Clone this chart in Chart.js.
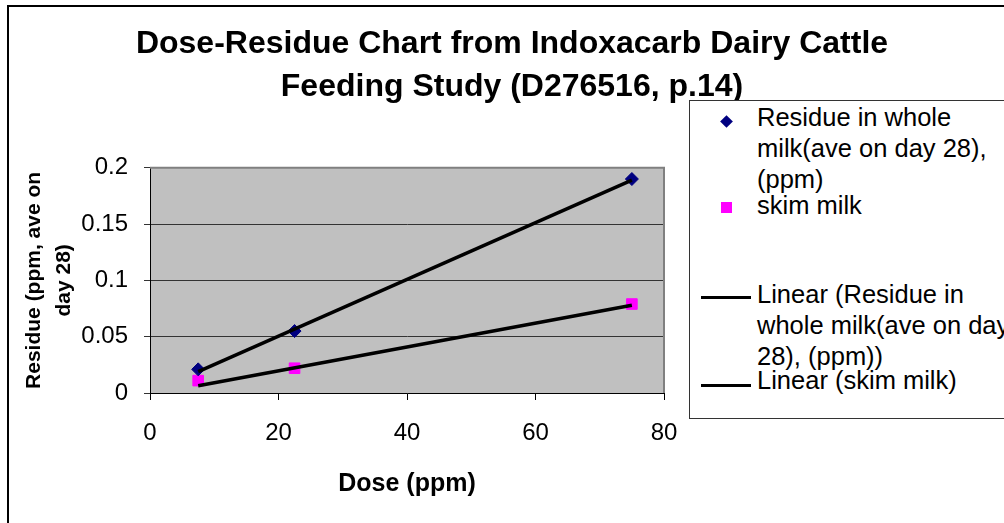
<!DOCTYPE html>
<html>
<head>
<meta charset="utf-8">
<script src="https://cdn.jsdelivr.net/npm/chart.js@4.4.1/dist/chart.umd.min.js"></script>
<style>
    html, body { margin: 0; padding: 0; background: #fff; overflow: hidden; }
    #wrap { position: relative; width: 1004px; height: 523px; overflow: hidden; }
    #frame {
        position: absolute; left: 7px; top: 5px; width: 1100px; height: 600px;
        border-left: 2px solid #000; border-top: 2px solid #000; pointer-events: none;
    }
    #legend {
        position: absolute; left: 689px; top: 100px; width: 360px; height: 317px;
        background: #fff; border: 1px solid #333;
        font-family: 'Liberation Sans', Arial, sans-serif; font-size: 25.5px; color: #000;
    }
    .lg-text { position: absolute; left: 67px; line-height: 31px; white-space: nowrap; }
    .lg-diamond { position: absolute; width: 9px; height: 9px; background: #000080; transform: rotate(45deg); }
    .lg-square { position: absolute; width: 11px; height: 11px; background: #ff00ff; }
    .lg-line { position: absolute; width: 50px; height: 3px; background: #000; }
</style>
</head>
<body>
<div id="wrap">
    <canvas id="doseChart" width="1004" height="523"></canvas>
    <div id="frame"></div>
    <div id="legend"></div>
</div>
<script>
// =============================================================================
// Data
// =============================================================================

const doses = [7.5, 22.5, 75];
const wholeMilk = [0.021, 0.055, 0.19];
const skimMilk = [0.011, 0.022, 0.079];

// trendline end points
const trendDoses = [7.5, 75];
const wholeTrend = [0.019, 0.189];
const skimTrend = [0.0065, 0.078];

const xTicks = [0, 20, 40, 60, 80];
const yTicks = [0, 0.05, 0.1, 0.15, 0.2];

const titleLines = ['Dose-Residue Chart from Indoxacarb Dairy Cattle', 'Feeding Study (D276516, p.14)'];
const xTitle = 'Dose (ppm)';
const yTitleLines = ['Residue (ppm, ave on', 'day 28)'];

const legendLabels = [
    ['Residue in whole', 'milk(ave on day 28),', '(ppm)'],
    ['skim milk'],
    ['Linear (Residue in', 'whole milk(ave on day', '28), (ppm))'],
    ['Linear (skim milk)']
];

// =============================================================================
// Helpers
// =============================================================================

function toPoints(xs, ys) {
    return xs.map((x, i) => ({ x: x, y: ys[i] }));
}

const FONT = "'Liberation Sans', Arial, sans-serif";
Chart.defaults.font.family = FONT;
Chart.defaults.color = '#000';

// gray plot area + gray frame on top/right
const plotArea = {
    id: 'plotArea',
    beforeDraw(chart) {
        const { ctx, chartArea: a } = chart;
        ctx.save();
        ctx.fillStyle = '#c0c0c0';
        ctx.fillRect(a.left, a.top, a.right - a.left, a.bottom - a.top);
        ctx.restore();
    },
    beforeDatasetsDraw(chart) {
        const { ctx, chartArea: a } = chart;
        ctx.save();
        ctx.strokeStyle = '#808080';
        ctx.lineWidth = 2;
        ctx.beginPath();
        ctx.moveTo(a.left, a.top);
        ctx.lineTo(a.right, a.top);
        ctx.lineTo(a.right, a.bottom);
        ctx.stroke();
        ctx.restore();
    }
};

// =============================================================================
// Chart
// =============================================================================

new Chart(document.getElementById('doseChart'), {
    type: 'scatter',
    data: {
        datasets: [
            {
                label: 'Linear (Residue in whole milk)',
                data: toPoints(trendDoses, wholeTrend),
                showLine: true,
                borderColor: '#000',
                borderWidth: 3.5,
                pointRadius: 0,
                order: 0
            },
            {
                label: 'Linear (skim milk)',
                data: toPoints(trendDoses, skimTrend),
                showLine: true,
                borderColor: '#000',
                borderWidth: 3.5,
                pointRadius: 0,
                order: 0
            },
            {
                label: 'Residue in whole milk',
                data: toPoints(doses, wholeMilk),
                pointStyle: 'rectRot',
                pointRadius: 6.5,
                backgroundColor: '#000080',
                borderColor: '#000080',
                borderWidth: 1,
                order: 1
            },
            {
                label: 'skim milk',
                data: toPoints(doses, skimMilk),
                pointStyle: 'rect',
                pointRadius: 7.5,
                backgroundColor: '#ff00ff',
                borderColor: '#ff00ff',
                borderWidth: 1,
                order: 1
            }
        ]
    },
    options: {
        responsive: false,
        animation: false,
        layout: { padding: { left: 20, right: 0, top: 0, bottom: 0 } },
        plugins: {
            legend: { display: false },
            tooltip: { enabled: false },
            title: {
                display: true,
                text: titleLines,
                color: '#000',
                font: { size: 32, weight: 'bold', lineHeight: 1.34 },
                padding: { top: 23, bottom: 59 }
            }
        },
        scales: {
            x: {
                type: 'linear',
                min: 0,
                max: 80,
                afterBuildTicks: (scale) => { scale.ticks = xTicks.map(v => ({ value: v })); },
                afterFit: (scale) => { scale.height = 130; },
                ticks: { font: { size: 24 }, padding: 19, color: '#000' },
                grid: { drawOnChartArea: false, drawTicks: true, tickLength: 7, color: '#000' },
                border: { display: true, color: '#000', width: 1 },
                title: {
                    display: true,
                    text: xTitle,
                    color: '#000',
                    font: { size: 25, weight: 'bold', lineHeight: 1.2 },
                    padding: { top: 0, bottom: 24 }
                }
            },
            y: {
                type: 'linear',
                min: 0,
                max: 0.2,
                afterBuildTicks: (scale) => { scale.ticks = yTicks.map(v => ({ value: v })); },
                afterFit: (scale) => { scale.width = 130; },
                ticks: { font: { size: 24 }, padding: 16, color: '#000', callback: (v) => String(v) },
                grid: { color: '#333', tickLength: 6, lineWidth: 1 },
                border: { display: true, color: '#000', width: 1 },
                title: {
                    display: true,
                    text: yTitleLines,
                    color: '#000',
                    font: { size: 21, weight: 'bold', lineHeight: 1.4 },
                    padding: { top: 0, bottom: 0 }
                }
            },
            // empty axis that reserves the space on the right for the legend
            spacer: {
                type: 'linear',
                position: 'right',
                display: true,
                ticks: { display: false },
                grid: { display: false },
                border: { display: false },
                afterFit: (scale) => { scale.width = 340; }
            }
        }
    },
    plugins: [plotArea]
});

// =============================================================================
// Legend (html, sits on top of the canvas like the Excel one)
// =============================================================================

const legendTops = [1, 89, 178, 264];
const legendMarks = ['diamond', 'square', 'line', 'line'];
const markTops = [16, 101, 195, 283];

const legendEl = document.getElementById('legend');
legendLabels.forEach((lines, i) => {
    const text = document.createElement('div');
    text.className = 'lg-text';
    text.style.top = legendTops[i] + 'px';
    text.innerHTML = lines.join('<br>');
    legendEl.appendChild(text);

    const mark = document.createElement('div');
    mark.className = 'lg-' + legendMarks[i];
    if (legendMarks[i] === 'line') {
        mark.style.left = '11px';
    } else {
        mark.style.left = legendMarks[i] === 'diamond' ? '32px' : '31px';
    }
    mark.style.top = markTops[i] + 'px';
    legendEl.appendChild(mark);
});
</script>
</body>
</html>
